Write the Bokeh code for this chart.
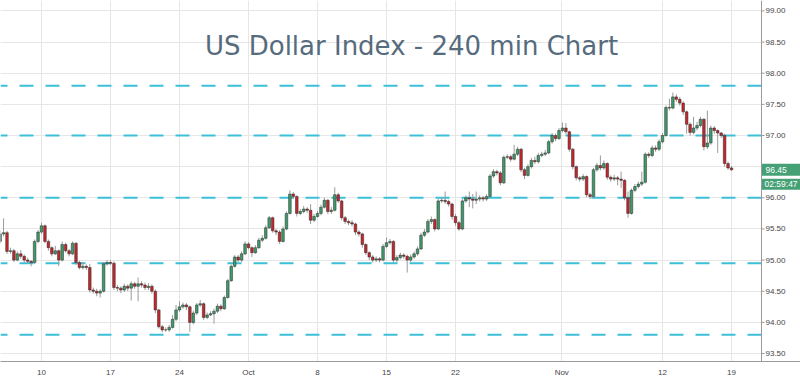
import numpy as np
from bokeh.plotting import figure
from bokeh.models import Label, FixedTicker, ColumnDataSource, Grid
from bokeh.embed import file_html
from bokeh.resources import INLINE

# ---- data (240-min candles, 4 per trading day) ----
opens = [95.30, 95.42, 95.44, 95.14, 95.15, 95.00, 95.10, 95.06, 95.00, 94.98,
         94.96, 95.30, 95.45, 95.55, 95.30, 95.20, 95.10, 95.15, 95.00, 95.25,
         95.15, 95.10, 95.27, 94.96, 94.88, 94.90, 94.88, 94.52, 94.50, 94.47,
         94.50, 94.94, 94.96, 94.95, 94.56, 94.55, 94.52, 94.58, 94.55, 94.62,
         94.58, 94.62, 94.60, 94.56, 94.58, 94.50, 94.20, 93.93, 93.88, 93.88,
         93.92, 94.05, 94.20, 94.25, 94.28, 94.25, 94.00, 94.15, 94.28, 94.30,
         94.08, 94.12, 94.14, 94.18, 94.26, 94.22, 94.40, 94.67, 94.90, 95.05,
         95.00, 95.10, 95.26, 95.20, 95.12, 95.20, 95.32, 95.35, 95.52, 95.68,
         95.47, 95.45, 95.30, 95.50, 95.75, 96.06, 96.02, 95.75, 95.78, 95.82,
         95.80, 95.64, 95.70, 95.75, 95.85, 95.96, 95.78, 95.80, 96.05, 95.95,
         95.68, 95.62, 95.60, 95.58, 95.45, 95.42, 95.25, 95.12, 95.05, 95.00,
         95.02, 95.00, 95.22, 95.28, 95.30, 95.00, 95.04, 95.08, 95.06, 95.00,
         95.05, 95.10, 95.18, 95.40, 95.45, 95.62, 95.65, 95.50, 95.95, 95.96,
         95.94, 95.90, 95.70, 95.60, 95.50, 95.95, 96.00, 95.98, 95.96, 95.98,
         96.00, 95.98, 96.02, 96.35, 96.42, 96.40, 96.24, 96.65, 96.66, 96.62,
         96.70, 96.78, 96.45, 96.36, 96.50, 96.60, 96.58, 96.68, 96.70, 96.72,
         96.90, 97.00, 96.95, 97.08, 97.12, 97.06, 96.78, 96.50, 96.32, 96.30,
         96.34, 96.05, 96.02, 96.45, 96.52, 96.48, 96.55, 96.33, 96.30, 96.32,
         96.30, 96.28, 96.00, 95.75, 96.12, 96.18, 96.22, 96.25, 96.70, 96.68,
         96.80, 96.78, 96.90, 97.00, 97.45, 97.44, 97.62, 97.58, 97.52, 97.38,
         97.18, 97.05, 97.12, 97.16, 97.26, 96.82, 96.88, 97.12, 97.08, 97.04,
         97.00, 96.55, 96.48]

closes = [95.42, 95.44, 95.14, 95.15, 95.00, 95.10, 95.06, 95.00, 94.98, 94.96,
          95.30, 95.45, 95.55, 95.30, 95.20, 95.10, 95.15, 95.00, 95.25, 95.15,
          95.10, 95.27, 94.96, 94.88, 94.90, 94.88, 94.52, 94.50, 94.47, 94.50,
          94.94, 94.96, 94.95, 94.56, 94.55, 94.52, 94.58, 94.55, 94.62, 94.58,
          94.62, 94.60, 94.56, 94.58, 94.50, 94.20, 93.93, 93.88, 93.88, 93.92,
          94.05, 94.20, 94.25, 94.28, 94.25, 94.00, 94.15, 94.28, 94.30, 94.08,
          94.12, 94.14, 94.18, 94.26, 94.22, 94.40, 94.67, 94.90, 95.05, 95.00,
          95.10, 95.26, 95.20, 95.12, 95.20, 95.32, 95.35, 95.52, 95.68, 95.47,
          95.45, 95.30, 95.50, 95.75, 96.06, 96.02, 95.75, 95.78, 95.82, 95.80,
          95.64, 95.70, 95.75, 95.85, 95.96, 95.78, 95.80, 96.05, 95.95, 95.68,
          95.62, 95.60, 95.58, 95.45, 95.42, 95.25, 95.12, 95.05, 95.00, 95.02,
          95.00, 95.22, 95.28, 95.30, 95.00, 95.04, 95.08, 95.06, 95.00, 95.05,
          95.10, 95.18, 95.40, 95.45, 95.62, 95.65, 95.50, 95.95, 95.96, 95.94,
          95.90, 95.70, 95.60, 95.50, 95.95, 96.00, 95.98, 95.96, 95.98, 96.00,
          95.98, 96.02, 96.35, 96.42, 96.40, 96.24, 96.65, 96.66, 96.62, 96.70,
          96.78, 96.45, 96.36, 96.50, 96.60, 96.58, 96.68, 96.70, 96.72, 96.90,
          97.00, 96.95, 97.08, 97.12, 97.06, 96.78, 96.50, 96.32, 96.30, 96.34,
          96.05, 96.02, 96.45, 96.52, 96.48, 96.55, 96.33, 96.30, 96.32, 96.30,
          96.28, 96.00, 95.75, 96.12, 96.18, 96.22, 96.25, 96.70, 96.68, 96.80,
          96.78, 96.90, 97.00, 97.45, 97.44, 97.62, 97.58, 97.52, 97.38, 97.18,
          97.05, 97.12, 97.16, 97.26, 96.82, 96.88, 97.12, 97.08, 97.04, 97.00,
          96.55, 96.48, 96.45]

highs = [95.48, 95.67, 95.47, 95.20, 95.18, 95.14, 95.16, 95.09, 95.04, 95.00,
         95.33, 95.48, 95.60, 95.57, 95.33, 95.22, 95.23, 95.17, 95.30, 95.28,
         95.18, 95.30, 95.29, 94.99, 94.97, 94.93, 94.94, 94.56, 94.54, 94.53,
         94.97, 95.00, 95.00, 94.98, 94.60, 94.58, 94.62, 94.61, 94.66, 94.65,
         94.72, 94.66, 94.64, 94.63, 94.61, 94.53, 94.22, 93.96, 93.92, 93.96,
         94.12, 94.28, 94.34, 94.32, 94.31, 94.27, 94.19, 94.31, 94.36, 94.32,
         94.16, 94.18, 94.22, 94.30, 94.29, 94.43, 94.70, 94.93, 95.08, 95.08,
         95.14, 95.30, 95.29, 95.22, 95.24, 95.36, 95.40, 95.56, 95.71, 95.70,
         95.50, 95.48, 95.54, 95.78, 96.12, 96.09, 96.04, 95.82, 95.87, 95.85,
         95.90, 95.74, 95.79, 95.89, 96.00, 95.98, 95.85, 96.17, 96.08, 95.97,
         95.71, 95.65, 95.64, 95.60, 95.48, 95.44, 95.27, 95.14, 95.08, 95.06,
         95.05, 95.26, 95.36, 95.34, 95.32, 95.08, 95.12, 95.11, 95.09, 95.09,
         95.14, 95.22, 95.44, 95.50, 95.66, 95.70, 95.67, 95.98, 96.01, 96.10,
         95.97, 95.92, 95.74, 95.63, 95.98, 96.04, 96.10, 96.06, 96.10, 96.04,
         96.03, 96.06, 96.38, 96.46, 96.45, 96.43, 96.68, 96.70, 96.69, 96.85,
         96.82, 96.80, 96.48, 96.54, 96.64, 96.66, 96.72, 96.74, 96.77, 96.93,
         97.04, 97.03, 97.12, 97.21, 97.20, 97.08, 96.80, 96.52, 96.35, 96.38,
         96.36, 96.08, 96.48, 96.56, 96.68, 96.60, 96.57, 96.36, 96.37, 96.35,
         96.42, 96.30, 96.10, 96.15, 96.22, 96.26, 96.42, 96.73, 96.73, 96.84,
         96.84, 96.94, 97.04, 97.48, 97.59, 97.69, 97.66, 97.62, 97.55, 97.40,
         97.21, 97.30, 97.22, 97.30, 97.28, 97.40, 97.16, 97.15, 97.10, 97.06,
         97.03, 96.58, 96.51]

lows = [95.26, 95.38, 95.10, 95.10, 94.97, 94.98, 95.02, 94.96, 94.95, 94.90,
        94.94, 95.27, 95.42, 95.27, 95.15, 95.06, 95.08, 94.90, 94.98, 95.12,
        95.06, 95.08, 94.92, 94.85, 94.85, 94.84, 94.48, 94.46, 94.42, 94.40,
        94.48, 94.91, 94.92, 94.52, 94.50, 94.47, 94.49, 94.50, 94.35, 94.54,
        94.34, 94.56, 94.52, 94.52, 94.46, 94.15, 93.90, 93.84, 93.85, 93.85,
        93.90, 94.02, 94.17, 94.22, 94.20, 93.85, 93.97, 94.12, 94.25, 94.04,
        94.05, 94.10, 93.98, 94.15, 94.18, 94.20, 94.38, 94.65, 94.88, 94.97,
        94.97, 95.08, 95.17, 95.05, 95.10, 95.18, 95.29, 95.33, 95.50, 95.44,
        95.40, 95.26, 95.28, 95.48, 95.73, 95.98, 95.70, 95.72, 95.75, 95.76,
        95.58, 95.61, 95.68, 95.72, 95.83, 95.74, 95.74, 95.78, 95.92, 95.64,
        95.58, 95.56, 95.54, 95.40, 95.38, 95.20, 95.08, 95.00, 94.96, 94.97,
        94.96, 94.98, 95.19, 95.25, 94.96, 94.97, 95.01, 95.02, 94.80, 94.97,
        95.02, 95.07, 95.16, 95.37, 95.43, 95.58, 95.46, 95.48, 95.92, 95.90,
        95.86, 95.65, 95.55, 95.47, 95.48, 95.92, 95.85, 95.83, 95.90, 95.94,
        95.94, 95.95, 96.00, 96.32, 96.36, 96.20, 96.22, 96.62, 96.58, 96.60,
        96.67, 96.41, 96.30, 96.34, 96.47, 96.54, 96.55, 96.65, 96.67, 96.70,
        96.87, 96.91, 96.93, 97.05, 97.02, 96.74, 96.46, 96.28, 96.26, 96.27,
        96.01, 95.98, 96.00, 96.42, 96.44, 96.45, 96.29, 96.26, 96.27, 96.20,
        96.16, 95.96, 95.68, 95.73, 96.09, 96.15, 96.19, 96.23, 96.64, 96.65,
        96.74, 96.75, 96.87, 96.98, 97.40, 97.42, 97.54, 97.48, 97.33, 97.03,
        97.00, 97.02, 97.08, 97.13, 96.76, 96.78, 96.85, 97.03, 96.72, 96.96,
        96.50, 96.45, 96.43]

first_day = -3            # first bar sits three trading days before Sep 10
bars_per_day = 4

tick_days = [0, 5, 10, 15, 20, 25, 30, 37.7, 45, 50]
tick_labels = ["10", "17", "24", "Oct", "8", "15", "22", "Nov", "12", "19"]

price_ticks = [93.5, 94.0, 94.5, 95.0, 95.5, 96.0, 96.5, 97.0, 97.5, 98.0, 98.5, 99.0]
levels = [97.80, 97.00, 96.00, 94.95, 93.80]

last_price = 96.45
countdown = "02:59:47"
chart_title = "US Dollar Index - 240 min Chart"

# ---- layout constants (pixels <-> data) ----
W, H = 800, 381
PX_DAY = 13.8             # pixels per trading day
PX_UNIT = 62.3            # pixels per index point
DAY0_PX = 41              # pixel column of day 0
SCALE_PX = 761            # pixel column of the price scale
BOTTOM_PX = 361           # pixel row of the time axis
TOP_PRICE = 99.167        # price at the top edge

def dx(px):
    return (px - DAY0_PX) / PX_DAY

def dy(py):
    return TOP_PRICE - py / PX_UNIT

x0, x1 = dx(0), dx(W)
y0, y1 = dy(BOTTOM_PX), TOP_PRICE
edge = dx(SCALE_PX)

# ---- build ----
n = len(closes)
xs = first_day + np.arange(n) / bars_per_day
o = np.array(opens)
c = np.array(closes)
up = c >= o
src = ColumnDataSource(dict(
    x=xs, high=highs, low=lows,
    top=np.maximum(o, c), bottom=np.minimum(o, c),
    color=np.where(up, "#3f9a6b", "#c2272d"),
))

p = figure(width=W, height=H, output_backend="svg", toolbar_location=None,
           x_range=(x0, x1), y_range=(y0, y1),
           y_axis_location=None, title=None,
           min_border_left=0, min_border_top=0, min_border_right=0, min_border_bottom=H - BOTTOM_PX)
p.outline_line_color = None
p.background_fill_color = "white"
p.border_fill_color = "white"

# grid
p.xgrid.ticker = FixedTicker(ticks=tick_days)
p.xgrid.grid_line_color = "#e6e6e6"
p.ygrid.grid_line_color = None
p.add_layout(Grid(dimension=1, ticker=FixedTicker(ticks=price_ticks),
                  grid_line_color="#e6e6e6", grid_line_width=1))

# time axis
xa = p.xaxis[0]
xa.ticker = FixedTicker(ticks=tick_days)
xa.major_label_overrides = {d: lab for d, lab in zip(tick_days, tick_labels)}
xa.major_tick_out = 0
xa.major_tick_in = 0
xa.minor_tick_line_color = None
xa.major_label_standoff = 6
xa.axis_line_color = "#9a9a9a"
xa.major_label_text_font = "Liberation Sans"
xa.major_label_text_font_size = "8px"
xa.major_label_text_color = "#444444"

# support / resistance levels (stop at the price scale)
p.segment(x0=[x0] * len(levels), y0=levels, x1=[edge] * len(levels), y1=levels,
          line_color="#3dbfd8", line_width=2, line_dash="14 12", line_dash_offset=7)

# candles
p.segment("x", "high", "x", "low", source=src, line_color="#9a9a9a", line_width=1)
p.vbar("x", 0.19, "top", "bottom", source=src, fill_color="color",
       line_color="#2a2a2a", line_width=0.5)

# price scale strip on the right
p.quad(left=[edge], right=[x1], bottom=[y0], top=[y1], fill_color="white", line_color=None)
p.segment(x0=[edge], y0=[y0], x1=[edge], y1=[y1], line_color="#9a9a9a", line_width=1)
p.segment(x0=[edge] * len(price_ticks), y0=price_ticks,
          x1=[dx(SCALE_PX + 3)] * len(price_ticks), y1=price_ticks,
          line_color="#9a9a9a", line_width=1)
p.text(x=[dx(SCALE_PX + 4)] * len(price_ticks), y=price_ticks,
       text=[f"{t:.2f}" for t in price_ticks],
       text_align="left", text_baseline="middle", text_font_size="8px",
       text_font={"value": "Liberation Sans"}, text_color="#444444")

# last price / countdown tags
tag_h1 = 12 / PX_UNIT
tag_h2 = 11 / PX_UNIT
tag_y2 = last_price - 14.5 / PX_UNIT
p.rect(x=[(edge + x1) / 2] * 2, y=[last_price, tag_y2], width=x1 - edge - 1 / PX_DAY,
       height=[tag_h1, tag_h2], fill_color="#45a075", line_color=None)
p.text(x=[dx(SCALE_PX + 4), dx(SCALE_PX + 3)], y=[last_price, tag_y2],
       text=[f"{last_price:.2f}", countdown],
       text_align="left", text_baseline="middle", text_font_size="8.5px",
       text_font={"value": "Liberation Sans"}, text_color="white")

# title inside the plot
p.add_layout(Label(x=411, x_units="screen", y=dy(45), text=chart_title,
                   text_align="center", text_baseline="middle",
                   text_font="DejaVu Sans", text_font_size="26px",
                   text_color="#566b7d"))

open("out.html", "w").write(file_html(p, INLINE))
